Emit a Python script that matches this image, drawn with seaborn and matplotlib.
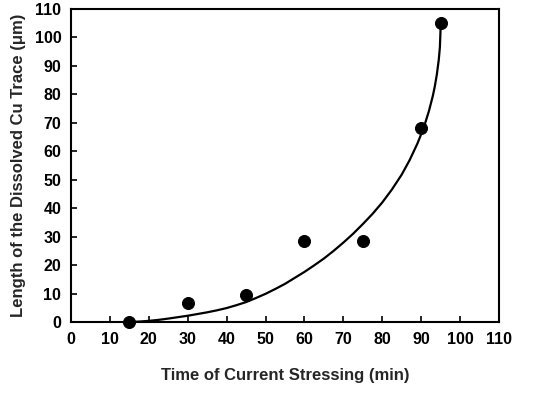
import numpy as np
import pandas as pd
import matplotlib
matplotlib.use('Agg')
import matplotlib.pyplot as plt
import seaborn as sns

# measured points
time_min = [15, 30, 45, 60, 75, 90, 95]
length_um = [0, 6.5, 9.5, 28.5, 28.5, 68, 105]

# fitted curve
curve_x = [15, 17.5, 20, 22.5, 25, 27.5, 30, 32.5, 35, 37.5, 40, 42.5, 45, 47.5, 50, 52.5, 55, 57.5, 60,
           62.5, 65, 67.5, 70, 72.5, 75, 77.5, 80, 82.5, 85, 87, 89, 90, 91, 92, 93, 93.5, 94, 94.5, 94.8, 95]
curve_y = [0, 0.15, 0.4, 0.75, 1.2, 1.7, 2.2, 2.8, 3.4, 4.1, 4.9, 5.9, 7.0, 8.4, 9.9, 11.6, 13.4, 15.5, 17.6,
           19.9, 22.3, 25.0, 27.9, 31.0, 34.4, 38.0, 42.0, 46.6, 51.8, 56.8, 62.6, 66.0, 69.8, 74.2, 79.5, 82.8, 86.8, 92.0, 96.5, 104]

sns.set_style('ticks')
plt.rcParams['font.family'] = ['Liberation Sans', 'DejaVu Sans']
plt.rcParams['font.weight'] = 'bold'

fig = plt.figure(figsize=(5.46, 4.01), dpi=100)
ax = fig.add_axes([0.130, 0.197, 0.784, 0.781])

pts = pd.DataFrame({'t': time_min, 'L': length_um})
fit = pd.DataFrame({'t': curve_x, 'L': curve_y})
sns.lineplot(data=fit, x='t', y='L', ax=ax, color='black', linewidth=1.6, sort=False)
sns.scatterplot(data=pts, x='t', y='L', ax=ax, color='black', s=75, edgecolor='black', zorder=3, clip_on=False)

ax.set_xlim(0, 110)
ax.set_ylim(0, 110)
ax.set_xticks(range(0, 111, 10))
ax.set_yticks(range(0, 111, 10))
ax.tick_params(direction='in', length=4, width=1.2, labelsize=11.5, pad=7, colors='black')
for lab in ax.get_xticklabels() + ax.get_yticklabels():
    lab.set_fontweight('bold')
for sp in ax.spines.values():
    sp.set_linewidth(1.5)
    sp.set_color('black')
ax.set_xlabel('Time of Current Stressing (min)', fontsize=12, fontweight='bold', labelpad=15)
ax.set_ylabel('Length of the Dissolved Cu Trace (\u03bcm)', fontsize=12, fontweight='bold', labelpad=6)

fig.savefig('out.png', dpi=100)
